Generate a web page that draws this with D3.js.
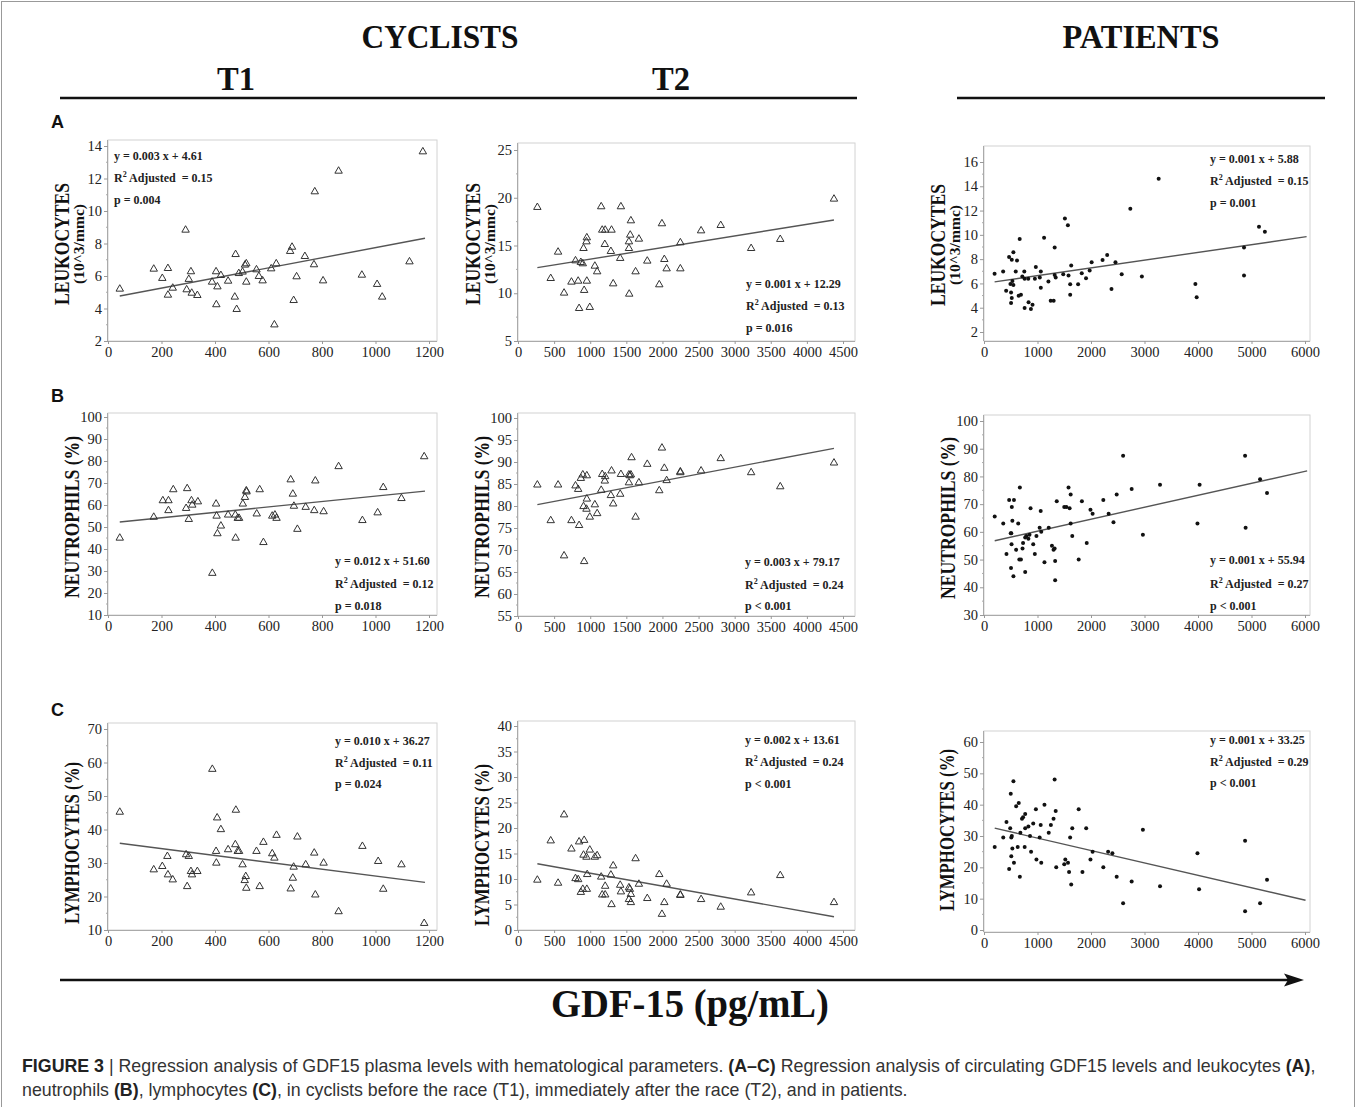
<!DOCTYPE html>
<html><head><meta charset="utf-8">
<script src="https://cdn.jsdelivr.net/npm/d3@7"></script>
<style>body{margin:0;background:#fff}text{white-space:pre}</style>
</head><body><svg id="fig" width="1357" height="1107"></svg>
<script>
// ---------------- DATA ----------------
const ticksT1 = [0,200,400,600,800,1000,1200];
const ticksT2 = [0,500,1000,1500,2000,2500,3000,3500,4000,4500];
const ticksPat = [0,1000,2000,3000,4000,5000,6000];
const ticksLeukT1 = [2,4,6,8,10,12,14];
const ticksLeukT2 = [5,10,15,20,25];
const ticksLeukPat = [2,4,6,8,10,12,14,16];
const ticksNeutT1 = [10,20,30,40,50,60,70,80,90,100];
const ticksNeutT2 = [55,60,65,70,75,80,85,90,95,100];
const ticksNeutPat = [30,40,50,60,70,80,90,100];
const ticksLymT1 = [10,20,30,40,50,60,70];
const ticksLymT2 = [0,5,10,15,20,25,30,35,40];
const ticksLymPat = [0,10,20,30,40,50,60];

const leukT1 = [[44,5.2],[171,6.43],[203,5.86],[224,6.47],[224,4.83],[242,5.26],[290,8.83],[294,5.16],[302,5.8],[310,6.27],[313,4.95],[334,4.81],[389,5.63],[404,6.27],[405,4.24],[409,5.34],[422,6.04],[449,5.69],[477,7.33],[474,4.71],[481,3.95],[489,6.16],[503,6.25],[512,6.68],[517,6.76],[517,5.63],[555,6.39],[564,5.98],[578,5.71],[610,6.45],[622,3.0],[629,6.76],[681,7.52],[688,7.78],[694,4.5],[705,5.96],[736,7.21],[770,6.7],[773,11.19],[804,5.71],[862,12.46],[949,6.06],[1006,5.49],[1025,4.71],[1127,6.88],[1177,13.65]];
const leukT2 = [[268,19.0],[453,11.56],[555,14.32],[638,10.03],[740,11.18],[796,13.41],[833,11.28],[846,8.42],[870,13.24],[897,13.1],[907,14.7],[916,10.31],[948,15.4],[953,15.82],[953,11.28],[994,8.53],[1064,12.85],[1096,12.26],[1152,19.07],[1166,16.62],[1207,16.62],[1202,15.12],[1286,14.39],[1295,16.62],[1318,11.0],[1415,13.66],[1425,19.07],[1536,14.7],[1536,15.4],[1540,9.92],[1554,16.1],[1563,17.6],[1628,12.26],[1674,15.68],[1790,13.38],[1956,10.9],[1993,17.29],[2026,13.55],[2058,12.57],[2248,15.3],[2248,12.57],[2535,16.55],[2807,17.11],[3228,14.7],[3631,15.65],[4375,19.87]];
const leukPat = [[198,6.79],[358,6.98],[414,5.39],[469,8.18],[494,5.96],[506,5.25],[506,4.38],[519,7.96],[519,4.79],[531,6.21],[549,5.88],[549,8.56],[593,6.98],[617,7.88],[648,4.98],[667,9.66],[691,5.06],[716,6.57],[753,6.98],[759,3.97],[759,6.38],[827,6.38],[833,4.46],[877,3.89],[907,4.24],[951,6.38],[969,7.36],[1043,6.48],[1062,6.98],[1062,5.64],[1123,9.77],[1204,6.16],[1247,4.57],[1302,4.57],[1321,6.7],[1321,8.95],[1340,6.48],[1481,6.76],[1512,11.35],[1568,10.8],[1580,6.65],[1611,5.94],[1611,5.06],[1630,7.47],[1759,5.94],[1827,6.84],[1907,6.43],[1975,7.06],[2012,7.74],[2216,7.93],[2302,8.34],[2383,5.55],[2457,7.74],[2574,6.76],[2735,12.14],[2951,6.57],[3265,14.63],[3951,5.96],[3975,4.87],[4860,8.95],[4860,6.65],[5140,10.67],[5250,10.26]];
const neutT1 = [[44,45],[171,54.5],[205,62],[226,62],[226,57.5],[244,67],[292,58.5],[296,67.5],[302,53.5],[312,62],[315,60],[336,61.5],[390,29],[404,60.5],[406,55],[409,47],[422,50.5],[449,55.5],[476,55.5],[477,45],[485,54],[490,54],[504,60.5],[512,63.5],[517,66.5],[518,66],[556,56],[567,67],[581,43],[614,55],[624,55.5],[630,54],[683,71.5],[691,65],[695,59.5],[708,49],[739,59],[771,57.5],[775,71],[806,57],[862,77.5],[951,53],[1008,56.5],[1029,68],[1097,63],[1182,82]];
const neutT2 = [[268,84.8],[453,76.7],[555,84.8],[638,68.7],[740,76.7],[796,84.6],[833,83.8],[846,75.6],[870,86.3],[897,87.1],[907,79.9],[916,67.4],[948,79.3],[953,81.6],[953,86.9],[994,77.5],[1064,80.3],[1096,78.3],[1152,83.6],[1166,87.2],[1207,86.7],[1202,85.7],[1286,82.4],[1295,88.0],[1318,80.5],[1415,82.7],[1425,87.2],[1536,87.1],[1536,85.3],[1549,86.9],[1563,87.1],[1572,91.0],[1628,77.5],[1674,85.3],[1790,89.5],[1956,83.5],[1993,93.2],[2026,88.6],[2058,85.8],[2248,87.6],[2248,87.8],[2535,88.0],[2807,90.8],[3228,87.6],[3631,84.4],[4375,89.8]];
const neutPat = [[200,65.5],[360,63],[420,52],[470,71.5],[500,59.5],[505,47],[510,59.5],[515,55.5],[520,69],[530,64],[550,44],[560,71.5],[600,53.5],[640,63],[660,50],[670,76],[690,50],[720,54],[730,56],[770,45.5],[770,58],[790,58.5],[830,57.5],[850,59],[870,68.5],[920,55.5],[950,52],[980,58.5],[1040,61.5],[1060,67.5],[1070,60],[1130,49],[1210,61.5],[1270,55],[1300,53.5],[1320,54],[1330,42.5],[1330,49.5],[1360,71],[1500,69],[1540,69],[1580,76],[1600,68.5],[1620,73.5],[1620,63],[1650,58.5],[1770,50],[1830,71],[1920,56],[1990,68],[2030,66.5],[2230,71.5],[2330,66.5],[2420,63.5],[2480,73.5],[2600,87.5],[2760,75.5],[2970,59],[3290,77],[3990,63],[4030,77],[4880,87.5],[4890,61.5],[5160,79],[5290,74]];
const lymT1 = [[44,45.2],[171,28],[203,29],[222,32],[224,26.5],[242,25],[292,32.5],[296,23],[302,32],[310,27.5],[314,26.5],[334,27.5],[390,58],[404,33.5],[405,30],[408,43.5],[422,40],[449,34],[476,35.5],[478,45.8],[485,33.5],[490,33.5],[503,29.5],[511,24.8],[515,26],[517,22.5],[555,33.5],[567,23],[581,36.2],[614,32.8],[622,31.5],[630,38.3],[683,22.3],[691,25.5],[694,28.8],[708,37.8],[739,29.5],[771,33],[775,20.5],[806,30],[862,15.5],[951,35],[1010,30.5],[1029,22.2],[1097,29.5],[1182,12]];
const lymT2 = [[268,9.8],[453,17.5],[555,9.2],[638,22.6],[740,15.9],[796,10.1],[833,9.9],[846,17.3],[870,7.4],[897,8.0],[907,14.7],[916,17.6],[948,14.3],[953,8.0],[958,10.9],[994,15.7],[1064,14.3],[1096,14.6],[1152,10.4],[1166,6.9],[1207,8.6],[1207,6.9],[1286,10.8],[1295,5.0],[1318,12.6],[1415,8.8],[1425,7.5],[1536,8.3],[1536,6.0],[1549,8.0],[1563,7.0],[1563,5.4],[1628,14.0],[1674,9.0],[1790,6.2],[1956,10.9],[1993,3.1],[2026,5.4],[2058,9.0],[2248,6.9],[2248,6.8],[2535,6.0],[2807,4.5],[3228,7.3],[3631,10.7],[4375,5.4]];
const lymPat = [[200,26.5],[360,29.5],[420,34.5],[470,19.5],[490,32.5],[500,43.5],[510,29.5],[510,23.5],[520,30],[530,26],[550,47.5],[560,21.5],[600,39.5],[630,26.5],[650,40.5],[670,17],[680,31],[710,35.5],[730,36],[760,26.5],[770,37],[770,32.5],[830,33],[860,30],[880,25],[920,34],[970,38.5],[980,22.5],[1040,29.5],[1060,33.5],[1070,21.5],[1130,40],[1210,31],[1250,33.5],[1300,35.5],[1320,48],[1340,38],[1350,20],[1500,21],[1520,22.5],[1570,21.5],[1590,18.5],[1610,29.5],[1630,14.5],[1650,32.5],[1770,38.5],[1840,18.5],[1910,32.5],[1990,22.5],[2030,25],[2230,20],[2320,25],[2400,24.5],[2480,17],[2600,8.5],[2760,15.5],[2970,32],[3290,14],[3990,24.5],[4020,13],[4880,6],[4880,28.5],[5160,8.5],[5290,16]];

// regression lines (endpoints)
const fitLeukT1 = [[44,4.77],[1185,8.32]];
const fitLeukT2 = [[268,12.68],[4375,17.67]];
const fitLeukPat = [[198,6.13],[6030,9.85]];
const fitNeutT1 = [[44,52.3],[1185,66.3]];
const fitNeutT2 = [[268,80.3],[4375,93.1]];
const fitNeutPat = [[200,56.8],[6040,82]];
const fitLymT1 = [[44,35.9],[1185,24.2]];
const fitLymT2 = [[268,13.0],[4375,2.6]];
const fitLymPat = [[200,32.5],[6010,9.5]];

// statistics text
const eqText = ["y = 0.003 x + 4.61","y = 0.001 x + 12.29","y = 0.001 x + 5.88",
                "y = 0.012 x + 51.60","y = 0.003 x + 79.17","y = 0.001 x + 55.94",
                "y = 0.010 x + 36.27","y = 0.002 x + 13.61","y = 0.001 x + 33.25"];
const r2Text = ["0.15","0.13","0.15","0.12","0.24","0.27","0.11","0.24","0.29"];
const pText = ["p = 0.004","p = 0.016","p = 0.001","p = 0.018","p < 0.001","p < 0.001","p = 0.024","p < 0.001","p < 0.001"];

// ---------------- LAYOUT ----------------
const svg = d3.select('#fig');
const SERIF = "'Liberation Serif','Times New Roman',serif";
const SANS = "'Liberation Sans',Arial,sans-serif";

svg.append('rect').attr('x',1.5).attr('y',1.5).attr('width',1353).attr('height',1115)
  .attr('fill','none').attr('stroke','#999').attr('stroke-width',1);

const cols = {
  T1:{anch:[0,1200], px:[108,429], right:437, ticks:ticksT1},
  T2:{anch:[0,4500], px:[518,843], right:855, ticks:ticksT2},
  P:{anch:[0,6000], px:[984,1305], right:1310, ticks:ticksPat}
};

const panels = [
 {col:'T1', data:leukT1, fit:fitLeukT1, ya:[2,14], yp:[341,146], top:140, bottom:341, yt:ticksLeukT1, dot:false, k:0, sx:114, sy:[156,178,200], lab:['LEUKOCYTES','(10^3/mmc)'], lx:[62,79], ly:244},
 {col:'T2', data:leukT2, fit:fitLeukT2, ya:[5,25], yp:[341,150], top:143, bottom:341, yt:ticksLeukT2, dot:false, k:1, sx:746, sy:[284,306,328], lab:['LEUKOCYTES','(10^3/mmc)'], lx:[473,490], ly:244},
 {col:'P', data:leukPat, fit:fitLeukPat, ya:[2,16], yp:[332,162], top:146, bottom:341, yt:ticksLeukPat, dot:true, k:2, sx:1210, sy:[159,181,203], lab:['LEUKOCYTES','(10^3/mmc)'], lx:[938,955], ly:245},
 {col:'T1', data:neutT1, fit:fitNeutT1, ya:[10,100], yp:[615,417], top:413, bottom:615, yt:ticksNeutT1, dot:false, k:3, sx:335, sy:[561,584,606], lab:['NEUTROPHILS (%)'], lx:[72], ly:517},
 {col:'T2', data:neutT2, fit:fitNeutT2, ya:[55,100], yp:[616,418], top:413, bottom:616, yt:ticksNeutT2, dot:false, k:4, sx:745, sy:[562,585,606], lab:['NEUTROPHILS (%)'], lx:[482], ly:517},
 {col:'P', data:neutPat, fit:fitNeutPat, ya:[30,100], yp:[615,421], top:415, bottom:615, yt:ticksNeutPat, dot:true, k:5, sx:1210, sy:[560,584,606], lab:['NEUTROPHILS (%)'], lx:[948], ly:518},
 {col:'T1', data:lymT1, fit:fitLymT1, ya:[10,70], yp:[930,729], top:723, bottom:930, yt:ticksLymT1, dot:false, k:6, sx:335, sy:[741,763,784], lab:['LYMPHOCYTES (%)'], lx:[72], ly:843},
 {col:'T2', data:lymT2, fit:fitLymT2, ya:[0,40], yp:[930,726], top:721, bottom:930, yt:ticksLymT2, dot:false, k:7, sx:745, sy:[740,762,784], lab:['LYMPHOCYTES (%)'], lx:[482], ly:845},
 {col:'P', data:lymPat, fit:fitLymPat, ya:[0,60], yp:[930,742], top:731, bottom:932, yt:ticksLymPat, dot:true, k:8, sx:1210, sy:[740,762,783], lab:['LYMPHOCYTES (%)'], lx:[947], ly:830}
];

const fmt = d3.format('d');

panels.forEach(p => {
  const c = cols[p.col];
  const x = d3.scaleLinear().domain(c.anch).range(c.px);
  const y = d3.scaleLinear().domain(p.ya).range(p.yp);
  const g = svg.append('g');
  const x0 = c.px[0], x1 = c.right;
  // frame
  g.append('rect').attr('x',x0).attr('y',p.top).attr('width',x1-x0).attr('height',p.bottom-p.top)
    .attr('fill','none').attr('stroke','#d2d2d2').attr('stroke-width',1);
  // x axis
  const xa = g.append('g').attr('transform',`translate(0,${p.bottom})`)
    .call(d3.axisBottom(x).tickValues(c.ticks).tickFormat(fmt).tickSize(3).tickSizeOuter(0).tickPadding(3));
  xa.select('.domain').attr('stroke','#aaa').attr('d',`M${x0},0.5H${x1}`);
  xa.selectAll('.tick line').attr('stroke','#999');
  xa.selectAll('text').attr('font-family',SERIF).attr('font-size',14.5).attr('fill','#222');
  // y axis
  const step = p.yt[1]-p.yt[0];
  const minor = p.yt.slice(0,-1).map(v=>v+step/2);
  const ya = g.append('g').attr('transform',`translate(${x0},0)`)
    .call(d3.axisLeft(y).tickValues(p.yt).tickFormat(fmt).tickSize(4).tickSizeOuter(0).tickPadding(2));
  ya.select('.domain').attr('stroke','#aaa').attr('d',`M-0.5,${p.top}V${p.bottom}`);
  ya.selectAll('.tick line').attr('stroke','#999');
  ya.selectAll('text').attr('font-family',SERIF).attr('font-size',14.5).attr('fill','#222');
  g.append('g').attr('transform',`translate(${x0},0)`).selectAll('line').data(minor).join('line')
    .attr('x1',-2).attr('x2',0).attr('y1',d=>y(d)).attr('y2',d=>y(d)).attr('stroke','#aaa');
  // regression line
  g.append('line').attr('x1',x(p.fit[0][0])).attr('y1',y(p.fit[0][1]))
    .attr('x2',x(p.fit[1][0])).attr('y2',y(p.fit[1][1]))
    .attr('stroke','#555').attr('stroke-width',1.4);
  // points
  if (p.dot) {
    g.selectAll('circle.pt').data(p.data).join('circle').attr('class','pt')
      .attr('cx',d=>x(d[0])).attr('cy',d=>y(d[1])).attr('r',2).attr('fill','#111');
  } else {
    const sym = d3.symbol(d3.symbolTriangle, 24);
    g.selectAll('path.pt').data(p.data).join('path').attr('class','pt')
      .attr('d',sym).attr('transform',d=>`translate(${x(d[0])},${y(d[1])})`)
      .attr('fill','none').attr('stroke','#333').attr('stroke-width',1);
  }
  // stats
  const st = g.append('g').attr('font-family',SERIF).attr('font-weight','bold').attr('font-size',12).attr('fill','#222');
  st.append('text').attr('x',p.sx).attr('y',p.sy[0]).attr('dominant-baseline','central').text(eqText[p.k]);
  const r = st.append('text').attr('x',p.sx).attr('y',p.sy[1]).attr('dominant-baseline','central');
  r.append('tspan').text('R');
  r.append('tspan').attr('font-size',8).attr('dy',-4).text('2');
  r.append('tspan').attr('dy',4).text(' Adjusted  = ' + r2Text[p.k]);
  st.append('text').attr('x',p.sx).attr('y',p.sy[2]).attr('dominant-baseline','central').text(pText[p.k]);
  // y label
  p.lab.forEach((t,i) => {
    const big = i===0;
    const two = p.lab.length>1;
    svg.append('text').attr('transform',`translate(${p.lx[i]},${p.ly}) rotate(-90)`)
      .attr('text-anchor','middle').attr('dominant-baseline','central')
      .attr('font-family',SERIF).attr('font-weight','bold')
      .attr('font-size', big ? 21 : 14)
      .attr('textLength', big ? (two ? 122 : 162) : 80).attr('lengthAdjust','spacingAndGlyphs')
      .attr('fill','#111').text(t);
  });
});

// headers
const hdr = svg.append('g').attr('font-family',SERIF).attr('font-weight','bold').attr('fill','#111')
  .attr('text-anchor','middle').attr('dominant-baseline','central');
hdr.append('text').attr('x',440).attr('y',37).attr('font-size',33).attr('textLength',157).attr('lengthAdjust','spacingAndGlyphs').text('CYCLISTS');
hdr.append('text').attr('x',1141).attr('y',37).attr('font-size',33).attr('textLength',157).attr('lengthAdjust','spacingAndGlyphs').text('PATIENTS');
hdr.append('text').attr('x',236).attr('y',78).attr('font-size',34).attr('textLength',38).attr('lengthAdjust','spacingAndGlyphs').text('T1');
hdr.append('text').attr('x',671).attr('y',78).attr('font-size',34).attr('textLength',38).attr('lengthAdjust','spacingAndGlyphs').text('T2');
svg.append('line').attr('x1',60).attr('x2',857).attr('y1',98).attr('y2',98).attr('stroke','#111').attr('stroke-width',2.5);
svg.append('line').attr('x1',957).attr('x2',1325).attr('y1',98).attr('y2',98).attr('stroke','#111').attr('stroke-width',2.5);

[['A',122],['B',396],['C',710]].forEach(([t,yy]) => {
  svg.append('text').attr('x',51).attr('y',yy).attr('dominant-baseline','central')
    .attr('font-family',SANS).attr('font-weight','bold').attr('font-size',18).attr('fill','#111').text(t);
});

// arrow
svg.append('line').attr('x1',60).attr('x2',1292).attr('y1',980).attr('y2',980).attr('stroke','#111').attr('stroke-width',2.5);
svg.append('path').attr('d','M1304,980L1284,973.5L1288,980L1284,986.5Z').attr('fill','#111');
svg.append('text').attr('x',690).attr('y',1003).attr('text-anchor','middle').attr('dominant-baseline','central')
  .attr('font-family',SERIF).attr('font-weight','bold').attr('font-size',40).attr('textLength',278).attr('lengthAdjust','spacingAndGlyphs')
  .attr('fill','#111').text('GDF-15 (pg/mL)');

// caption
const capLines = [
  [['FIGURE 3',true],[' | ',false],['Regression analysis of GDF15 plasma levels with hematological parameters. ',false],['(A–C)',true],[' Regression analysis of circulating GDF15 levels and leukocytes ',false],['(A)',true],[',',false]],
  [['neutrophils ',false],['(B)',true],[', lymphocytes ',false],['(C)',true],[', in cyclists before the race (T1), immediately after the race (T2), and in patients.',false]]
];
capLines.forEach((ln,i) => {
  const t = svg.append('text').attr('x',22).attr('y',[1066,1090][i]).attr('dominant-baseline','central')
    .attr('font-family',SANS).attr('font-size',17.8).attr('fill','#333');
  ln.forEach(([s,b]) => t.append('tspan').attr('font-weight', b?'bold':'normal').attr('fill', b?'#222':'#333').text(s));
});
</script>
</body></html>
